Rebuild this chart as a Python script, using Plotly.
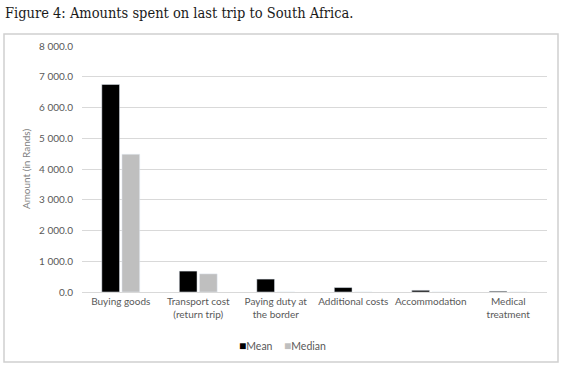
import plotly.graph_objects as go

categories = ["Buying goods", "Transport cost<br>(return trip)", "Paying duty at<br>the border",
              "Additional costs", "Accommodation", "Medical<br>treatment"]
mean_vals = [6750, 680, 420, 145, 55, 25]
median_vals = [4480, 590, 0, 0, 0, 0]
y_ticks = [0, 1000, 2000, 3000, 4000, 5000, 6000, 7000, 8000]
series_names = ["Mean", "Median"]
series_colors = ["#000000", "#bfbfbf"]

W, H = 564, 367
L, R, T, B = 82, 17, 46, 75
pw, ph = W - L - R, H - T - B

def px(x):
    return (x - L) / pw

def py(y):
    return (H - B - y) / ph

fig = go.Figure()
for name, vals, col in zip(series_names, [mean_vals, median_vals], series_colors):
    fig.add_bar(x=categories, y=vals, name=name, marker_color=col, showlegend=False)

legend_x = [237, 282]
annotations = [dict(text="Figure 4: Amounts spent on last trip to South Africa.",
                    xref="paper", yref="paper", x=px(3), y=py(13), xanchor="left",
                    yanchor="middle", showarrow=False,
                    font=dict(family="DejaVu Serif Condensed, DejaVu Serif, serif", size=14.5, color="#1a1a1a"))]
for name, col, lx in zip(series_names, series_colors, legend_x):
    annotations.append(dict(text=f"<span style='color:{col};font-size:12px'>■</span>{name}",
                            xref="paper", yref="paper", x=px(lx), y=py(345), xanchor="left",
                            yanchor="middle", showarrow=False,
                            font=dict(size=10.5, color="#595959")))

fig.update_layout(
    width=W, height=H,
    margin=dict(l=L, r=R, t=T, b=B, autoexpand=False),
    paper_bgcolor="white", plot_bgcolor="white",
    separators=". ",
    barmode="group", bargap=0.48, bargroupgap=0.12,
    font=dict(family="Lato, Open Sans, sans-serif", size=10, color="#595959"),
    showlegend=False,
    annotations=annotations,
    shapes=[dict(type="rect", xref="paper", yref="paper", x0=px(4), x1=px(558), y0=py(362), y1=py(34),
                 line=dict(color="#d0d0d0", width=1.5), fillcolor="rgba(0,0,0,0)", layer="below")],
)
fig.update_xaxes(showgrid=False, showline=True, linecolor="#d9d9d9", linewidth=1, automargin=False,
                 ticks="", tickfont=dict(size=10, color="#595959"))
fig.update_yaxes(range=[0, 8000], tickvals=y_ticks, tickformat=",.1f", automargin=False,
                 showgrid=True, gridcolor="#d9d9d9", gridwidth=1, zeroline=False,
                 ticks="", ticklabelstandoff=8,
                 title=dict(text="Amount (in Rands)", font=dict(size=10, color="#7f7f7f"), standoff=6))

fig.write_html("out.html", config={"displayModeBar": False},
               post_script="document.body.style.margin='0';document.body.style.overflow='hidden';")
